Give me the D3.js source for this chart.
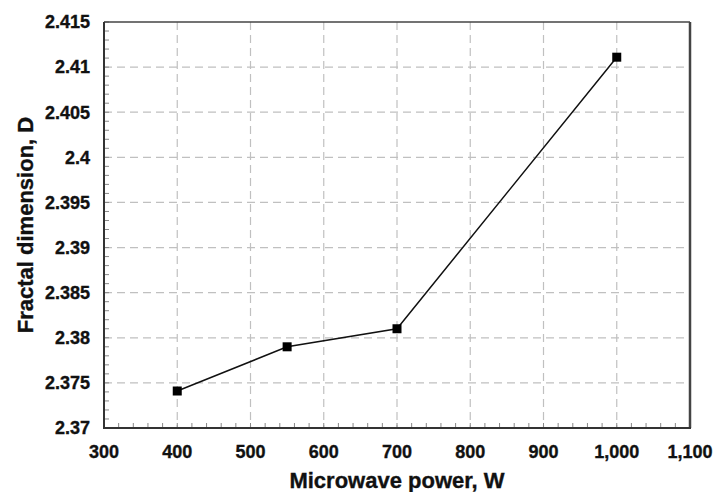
<!DOCTYPE html>
<html><head><meta charset="utf-8">
<script src="https://cdn.jsdelivr.net/npm/d3@7"></script>
<style>body{margin:0;background:#fff}svg{display:block}text{font-family:"Liberation Sans",Arial,sans-serif;font-weight:bold;stroke:#111;stroke-width:0.35px}</style>
</head><body><svg id="c" width="715" height="492"></svg>
<script>
const power = [400, 550, 700, 1000];
const fractalD = [2.3741, 2.379, 2.381, 2.4111];
const xTicks = [300, 400, 500, 600, 700, 800, 900, 1000, 1100];
const yTicks = [2.37, 2.375, 2.38, 2.385, 2.39, 2.395, 2.4, 2.405, 2.41, 2.415];
const xTitle = "Microwave power, W";
const yTitle = "Fractal dimension, D";

const svg = d3.select("#c");
const m = {l:104, t:22, r:690, b:428};
const x = d3.scaleLinear().domain([300,1100]).range([m.l, m.r]);
const y = d3.scaleLinear().domain([2.37,2.415]).range([m.b, m.t]);

// grid
const g = svg.append("g");
g.selectAll("line.gx").data(xTicks.slice(1,-1)).enter().append("line")
  .attr("x1",d=>x(d)).attr("x2",d=>x(d)).attr("y1",m.t).attr("y2",m.b)
  .attr("stroke","#c0c0c0").attr("stroke-width",1.2).attr("stroke-dasharray","8,5");
g.selectAll("line.gy").data(yTicks.slice(1,-1)).enter().append("line")
  .attr("y1",d=>y(d)).attr("y2",d=>y(d)).attr("x1",m.l).attr("x2",m.r)
  .attr("stroke","#c0c0c0").attr("stroke-width",1.2).attr("stroke-dasharray","8,5");

// minor ticks
const xMinor = d3.range(300, 1100.1, 20);
const yMinor = d3.range(0, 46).map(i => 2.37 + i*0.001);
g.selectAll("line.mx").data(xMinor).enter().append("line")
  .attr("x1",d=>x(d)).attr("x2",d=>x(d)).attr("y1",m.b).attr("y2",m.b-5)
  .attr("stroke","#888").attr("stroke-width",1);
g.selectAll("line.my").data(yMinor).enter().append("line")
  .attr("y1",d=>y(d)).attr("y2",d=>y(d)).attr("x1",m.l).attr("x2",m.l+5)
  .attr("stroke","#888").attr("stroke-width",1);

// frame
svg.append("line").attr("x1",m.l).attr("x2",m.r).attr("y1",m.t).attr("y2",m.t).attr("stroke","#444").attr("stroke-width",1.5);
svg.append("line").attr("x1",m.r).attr("x2",m.r).attr("y1",m.t).attr("y2",m.b).attr("stroke","#444").attr("stroke-width",2.5);
svg.append("line").attr("x1",m.l).attr("x2",m.l).attr("y1",m.t).attr("y2",m.b).attr("stroke","#333").attr("stroke-width",2);
svg.append("line").attr("x1",m.l-1).attr("x2",m.r+1).attr("y1",m.b).attr("y2",m.b).attr("stroke","#333").attr("stroke-width",2);

// tick labels
const fmtX = d3.format(",");
svg.selectAll("text.xt").data(xTicks).enter().append("text")
  .attr("x",d=>x(d)).attr("y",458).attr("text-anchor","middle")
  .attr("font-size",18).attr("fill","#111").text(d=>fmtX(d));
svg.selectAll("text.yt").data(yTicks).enter().append("text")
  .attr("x",90).attr("y",d=>y(d)).attr("dy","0.35em").attr("text-anchor","end")
  .attr("font-size",18).attr("fill","#111").text(d=>+d.toFixed(3));

// titles
svg.append("text").attr("x",(m.l+m.r)/2).attr("y",488).attr("text-anchor","middle")
  .attr("font-size",22).attr("fill","#111").text(xTitle);
svg.append("text").attr("transform",`translate(33,${(m.t+m.b)/2}) rotate(-90)`)
  .attr("text-anchor","middle").attr("font-size",22).attr("fill","#111").text(yTitle);

// line + markers
const data = power.map((p,i)=>({p, v:fractalD[i]}));
svg.append("path").datum(data)
  .attr("d", d3.line().x(d=>x(d.p)).y(d=>y(d.v)))
  .attr("fill","none").attr("stroke","#111").attr("stroke-width",1.5);
svg.selectAll("rect.pt").data(data).enter().append("rect")
  .attr("x",d=>x(d.p)-4.5).attr("y",d=>y(d.v)-4.5).attr("width",9).attr("height",9)
  .attr("fill","#000");
</script></body></html>
